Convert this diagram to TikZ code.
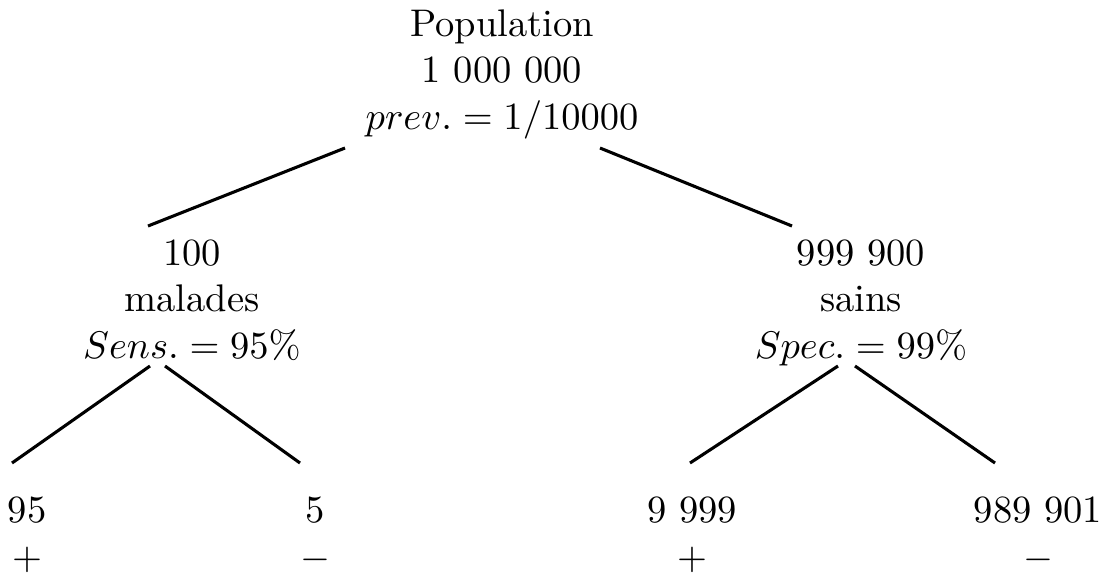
\documentclass[tikz,border=0pt]{standalone}
\begin{document}
\begin{tikzpicture}[x=0.2597pt,y=-0.2597pt,
  lbl/.style={align=center,inner sep=0pt,anchor=base},
  edge/.style={line width=0.8pt}]
\useasboundingbox (0,0) rectangle (1107,579);
\node[lbl] (root) at (502,129) {Population\\1~000~000\\$prev. = 1/10000$};
\node[lbl] (mal) at (192,358) {100\\malades\\$Sens. = 95\%$};
\node[lbl] (sain) at (861,358) {999~900\\sains\\$Spec. = 99\%$};
\node[lbl] (l1) at (27,569) {95\\$+$};
\node[lbl] (l2) at (315,569) {5\\$-$};
\node[lbl] (l3) at (692,569) {9~999\\$+$};
\node[lbl] (l4) at (1038,569) {989~901\\$-$};
\coordinate (rA) at (345,148);
\coordinate (rB) at (600,148);
\coordinate (mT) at (148,226);
\coordinate (sT) at (792,226);
\coordinate (mA) at (150,366);
\coordinate (mB) at (165,366);
\coordinate (sA) at (838,366);
\coordinate (sB) at (855,366);
\coordinate (l1T) at (12,463);
\coordinate (l2T) at (300,463);
\coordinate (l3T) at (690,463);
\coordinate (l4T) at (995,463);
\draw[edge] (rA) -- (mT);
\draw[edge] (rB) -- (sT);
\draw[edge] (mA) -- (l1T);
\draw[edge] (mB) -- (l2T);
\draw[edge] (sA) -- (l3T);
\draw[edge] (sB) -- (l4T);
\end{tikzpicture}
\end{document}
